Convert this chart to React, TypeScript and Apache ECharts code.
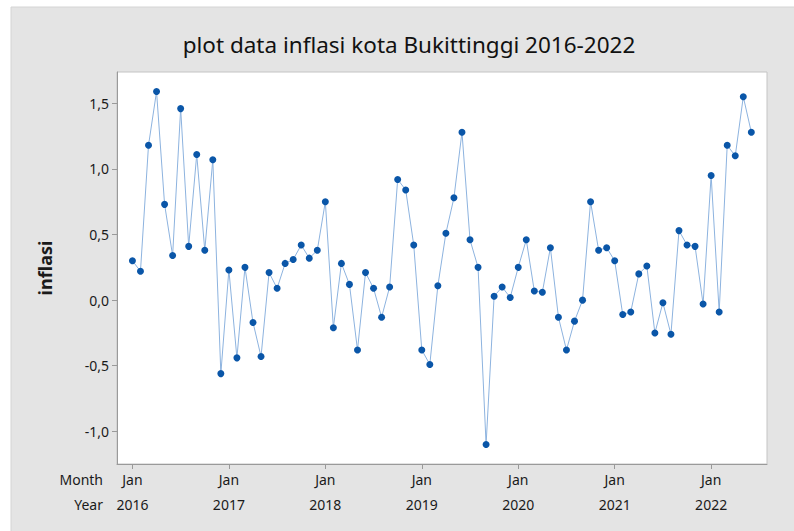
import React, { useEffect, useRef } from "react";
import * as echarts from "echarts";

const TITLE = "plot data inflasi kota Bukittinggi 2016-2022";
const Y_NAME = "inflasi";
const YEARS = ["2016", "2017", "2018", "2019", "2020", "2021", "2022"];
const MONTH_TICK = "Jan";
const Y_TICKS = [-1.0, -0.5, 0.0, 0.5, 1.0, 1.5];

// monthly inflation, Jan 2016 .. Jun 2022
const INFLASI = [
  0.30, 0.22, 1.18, 1.59, 0.73, 0.34, 1.46, 0.41, 1.11, 0.38, 1.07, -0.56,
  0.23, -0.44, 0.25, -0.17, -0.43, 0.21, 0.09, 0.28, 0.31, 0.42, 0.32, 0.38,
  0.75, -0.21, 0.28, 0.12, -0.38, 0.21, 0.09, -0.13, 0.10, 0.92, 0.84, 0.42,
  -0.38, -0.49, 0.11, 0.51, 0.78, 1.28, 0.46, 0.25, -1.10, 0.03, 0.10, 0.02,
  0.25, 0.46, 0.07, 0.06, 0.40, -0.13, -0.38, -0.16, 0.00, 0.75, 0.38, 0.40,
  0.30, -0.11, -0.09, 0.20, 0.26, -0.25, -0.02, -0.26, 0.53, 0.42, 0.41, -0.03,
  0.95, -0.09, 1.18, 1.10, 1.55, 1.28,
];

const FONT = "'Noto Sans', 'Open Sans', sans-serif";

export default function App() {
  const ref = useRef<HTMLDivElement>(null);
  useEffect(() => {
    if (!ref.current) return;
    const chart = echarts.init(ref.current, null, { renderer: "svg" });
    const data = INFLASI.map((v, i) => [i, v]);
    const xTicks = YEARS.map((_, i) => i * 12);
    chart.setOption({
      animation: false,
      backgroundColor: "#ffffff",
      textStyle: { fontFamily: FONT },
      graphic: [
        {
          type: "rect",
          z: -10,
          shape: { x: 11, y: 7, width: 790, height: 530 },
          style: { fill: "#e4e4e4", stroke: "#d4d4d4", lineWidth: 1 },
          silent: true,
        },
        {
          type: "text",
          x: 103,
          y: 479,
          style: {
            text: "Month",
            font: `14px ${FONT}`,
            fill: "#1a1a1a",
            align: "right",
            verticalAlign: "middle",
          },
        },
        {
          type: "text",
          x: 103,
          y: 504,
          style: {
            text: "Year",
            font: `14px ${FONT}`,
            fill: "#1a1a1a",
            align: "right",
            verticalAlign: "middle",
          },
        },
      ],
      title: {
        text: TITLE,
        left: 404,
        top: 28,
        textAlign: "center",
        textStyle: {
          fontFamily: FONT,
          fontSize: 22.5,
          fontWeight: "normal",
          color: "#111",
        },
      },
      grid: {
        left: 117,
        top: 72,
        right: 27,
        bottom: 67,
        show: true,
        backgroundColor: "#ffffff",
        borderColor: "#c4c4c4",
        borderWidth: 1,
      },
      xAxis: {
        type: "value",
        min: -1.92,
        max: 78.95,
        splitLine: { show: false },
        axisLine: { show: true, onZero: false, lineStyle: { color: "#9a9a9a", width: 1 } },
        axisTick: {
          show: true,
          customValues: xTicks,
          length: 5,
          lineStyle: { color: "#9a9a9a" },
        },
        axisLabel: {
          customValues: xTicks,
          margin: 3,
          lineHeight: 25,
          fontSize: 14,
          color: "#1a1a1a",
          fontFamily: FONT,
          formatter: (v: number) => `${MONTH_TICK}\n${YEARS[Math.round(v / 12)]}`,
        },
      },
      yAxis: {
        type: "value",
        min: -1.249,
        max: 1.739,
        name: Y_NAME,
        nameLocation: "middle",
        nameGap: 63,
        nameRotate: 90,
        nameTextStyle: {
          fontFamily: FONT,
          fontSize: 18,
          fontWeight: "bold",
          color: "#1a1a1a",
        },
        splitLine: { show: false },
        axisLine: { show: true, onZero: false, lineStyle: { color: "#9a9a9a", width: 1 } },
        axisTick: {
          show: true,
          customValues: Y_TICKS,
          length: 5,
          lineStyle: { color: "#9a9a9a" },
        },
        axisLabel: {
          customValues: Y_TICKS,
          margin: 8,
          fontSize: 14,
          color: "#1a1a1a",
          fontFamily: FONT,
          formatter: (v: number) => v.toFixed(1).replace(".", ","),
        },
      },
      series: [
        {
          type: "line",
          data,
          symbol: "circle",
          symbolSize: 7,
          itemStyle: { color: "#0a56a8" },
          lineStyle: { color: "#8db3df", width: 1 },
        },
      ],
    });
    return () => chart.dispose();
  }, []);
  return (
    <div
      ref={ref}
      style={{ position: "fixed", left: 0, top: 0, width: 794, height: 531 }}
    />
  );
}
